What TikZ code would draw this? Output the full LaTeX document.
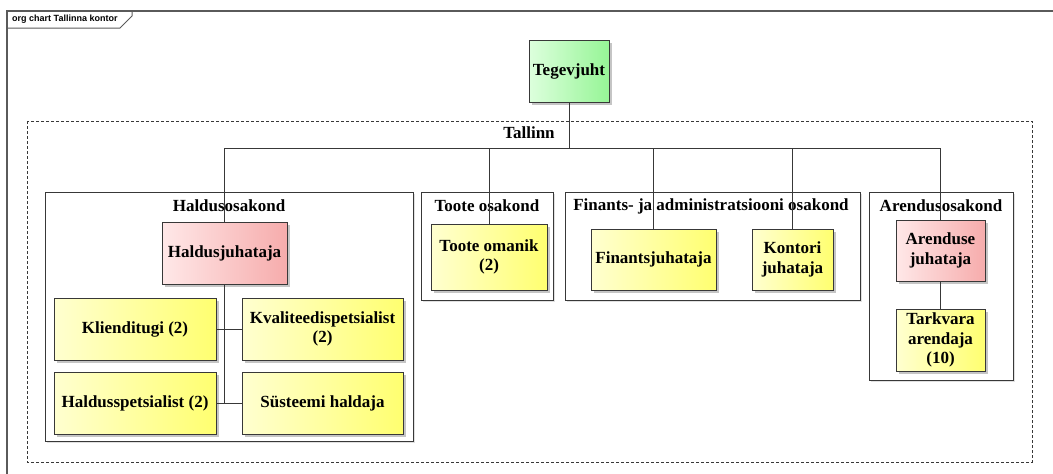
\documentclass[tikz,border=0pt]{standalone}
\usepackage{fontspec}
\setmainfont{Liberation Serif}
\newfontfamily\framefont{Liberation Sans}
\usetikzlibrary{shadows, positioning}
\definecolor{ORGgreenA}{HTML}{DDFFDD}
\definecolor{ORGgreenB}{HTML}{96F596}
\definecolor{ORGredA}{HTML}{FFE8E8}
\definecolor{ORGredB}{HTML}{F6ACAC}
\definecolor{ORGyellowA}{HTML}{FFFFD0}
\definecolor{ORGyellowB}{HTML}{FFFF70}
\definecolor{ORGline}{HTML}{383838}
\definecolor{ORGframe}{HTML}{5A5A5A}
\tikzset{
   unit/.style={draw=ORGline, line width=1pt, align=center, inner sep=2pt,
      font=\fontsize{17}{19.5}\selectfont\bfseries,
      drop shadow={shadow xshift=3pt, shadow yshift=-3pt, fill=black!45, opacity=0.5}},
   chiefbox/.style={unit, left color=ORGgreenA, right color=ORGgreenB},
   leadbox/.style={unit, left color=ORGredA, right color=ORGredB},
   staffbox/.style={unit, left color=ORGyellowA, right color=ORGyellowB},
   dept/.style={draw=ORGline, line width=1pt, fill=white,
      drop shadow={shadow xshift=2pt, shadow yshift=-2pt, fill=black!30, opacity=0.4}},
   deptlabel/.style={font=\fontsize{17}{19.5}\selectfont\bfseries, inner sep=0pt},
   link/.style={draw=ORGline, line width=1pt}
}
\begin{document}
\begin{tikzpicture}[x=1pt, y=-1pt]
            \useasboundingbox (0,0) rectangle (1053,474);
            % Frame
            \draw[ORGframe, line width=1.5pt] (7,474) -- (7,11) -- (1053,11);
            \draw[ORGframe, line width=1pt] (7,28) -- (120,28) -- (132,16) -- (132,11);
            \node[font=\framefont\fontsize{9}{10}\selectfont\bfseries, anchor=west, inner sep=0pt]
               (frametitle) at (12,19.5) {org chart Tallinna kontor};
            % Tallinn
            \draw[ORGline, line width=1pt, dash pattern=on 3pt off 2pt] (27,121) rectangle (1032,462);
            \node[deptlabel] (tallinn) at (529,133) {Tallinn};
            % Departments
            \filldraw[dept] (45,192) rectangle (413,441);
            \node[deptlabel] (haldus) at (229,206) {Haldusosakond};
            \filldraw[dept] (421,192) rectangle (553,300);
            \node[deptlabel] (toote) at (487,206) {Toote osakond};
            \filldraw[dept] (565,192) rectangle (860,300);
            \node[deptlabel] (finants) at (711,206) {Finants- ja administratsiooni osakond};
            \filldraw[dept] (869,192) rectangle (1013,380);
            \node[deptlabel] (arendus) at (941,206) {Arendusosakond};
            % Tegevjuht
            \node[chiefbox, minimum width=80pt, minimum height=62pt] (teg) at (569,71) {Tegevjuht};
            \coordinate (bus) at (569,148);
            % Haldusosakond
            \node[leadbox, minimum width=125pt, minimum height=62pt] (hj) at (224.5,253) {Haldusjuhataja};
            \node[staffbox, minimum width=162pt, minimum height=62pt] (kt) at (135,329) {Klienditugi (2)};
            \node[staffbox, minimum width=161pt, minimum height=62pt] (kv) at (322.5,329) {Kvaliteedispetsialist\\(2)};
            \node[staffbox, minimum width=162pt, minimum height=62pt] (hs) at (135,403) {Haldusspetsialist (2)};
            \node[staffbox, minimum width=161pt, minimum height=62pt] (sh) at (322.5,403) {Süsteemi haldaja};
            % Toote osakond
            \node[staffbox, minimum width=116pt, minimum height=66pt] (to) at (489,257) {Toote omanik\\(2)};
            % Finants- ja administratsiooni osakond
            \node[staffbox, minimum width=125pt, minimum height=61pt] (fj) at (653.5,259.5) {Finantsjuhataja};
            \node[staffbox, minimum width=81pt, minimum height=61pt] (kj) at (792.5,259.5) {Kontori\\juhataja};
            % Arendusosakond
            \node[leadbox, minimum width=89pt, minimum height=61pt] (aj) at (940.5,250.5) {Arenduse\\juhataja};
            \node[staffbox, minimum width=89pt, minimum height=62pt] (ta) at (940.5,340) {Tarkvara\\arendaja\\(10)};
            % Links
            \draw[link] (teg.south) -- (bus);
            \draw[link] (bus) -| (hj.north);
            \draw[link] (bus) -| (to.north);
            \draw[link] (bus) -| (fj.north);
            \draw[link] (bus) -| (kj.north);
            \draw[link] (bus) -| (aj.north);
            \draw[link] (hj.south) -- (hj.south |- hs.east);
            \draw[link] (kt.east) -- (kv.west);
            \draw[link] (hs.east) -- (sh.west);
            \draw[link] (aj.south) -- (ta.north);
         \end{tikzpicture}
\end{document}
